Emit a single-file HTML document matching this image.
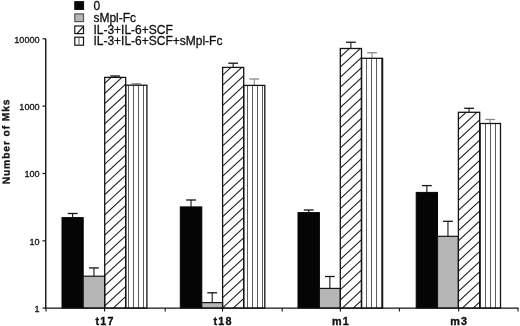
<!DOCTYPE html>
<html><head><meta charset="utf-8"><title>Number of Mks</title>
<style>html,body{margin:0;padding:0;background:#fff;}svg{display:block;}text{font-family:"Liberation Sans",Arial,Helvetica,sans-serif;fill:#111;}</style>
</head><body>
<svg width="520" height="326" viewBox="0 0 520 326">
<defs>
</defs>
<rect width="520" height="326" fill="#fff"/>
<rect x="74.8" y="1.7" width="8.70" height="7.70" fill="#050505" stroke="#141414" stroke-width="1.2"/>
<rect x="74.8" y="13.9" width="8.70" height="7.70" fill="#b6b6b6" stroke="#555" stroke-width="1.2"/>
<rect x="74.8" y="26.0" width="8.70" height="7.60" fill="#fff" stroke="#141414" stroke-width="1.2"/>
<rect x="74.8" y="37.2" width="8.70" height="8.00" fill="#fff" stroke="#141414" stroke-width="1.2"/>
<line x1="76.8" y1="33.8" x2="82.8" y2="27.2" stroke="#141414" stroke-width="1.2"/>
<line x1="79" y1="36.8" x2="79" y2="45.6" stroke="#555" stroke-width="1"/>
<text x="93.4" y="9.6" font-size="12" stroke="#111" stroke-width="0.3">0</text>
<text x="93.4" y="21.6" font-size="12" stroke="#111" stroke-width="0.3">sMpl-Fc</text>
<text x="93.4" y="33.7" font-size="12" stroke="#111" stroke-width="0.3">IL-3+IL-6+SCF</text>
<text x="93.4" y="45.4" font-size="12" stroke="#111" stroke-width="0.3">IL-3+IL-6+SCF+sMpl-Fc</text>
<line x1="72.60" y1="213.5" x2="72.60" y2="217.6" stroke="#141414" stroke-width="1.1"/>
<line x1="67.70" y1="213.5" x2="77.50" y2="213.5" stroke="#141414" stroke-width="1.3"/>
<rect x="62.00" y="217.6" width="21.20" height="90.50" fill="#050505" stroke="#050505" stroke-width="1"/>
<line x1="93.95" y1="267.9" x2="93.95" y2="276.2" stroke="#141414" stroke-width="1.1"/>
<line x1="89.05" y1="267.9" x2="98.85" y2="267.9" stroke="#141414" stroke-width="1.3"/>
<rect x="83.20" y="276.2" width="21.50" height="31.90" fill="#b6b6b6" stroke="#141414" stroke-width="1.2"/>
<line x1="115.20" y1="76.0" x2="115.20" y2="77.4" stroke="#141414" stroke-width="1.1"/>
<line x1="110.30" y1="76.0" x2="120.10" y2="76.0" stroke="#141414" stroke-width="1.3"/>
<clipPath id="c0"><rect x="104.70" y="77.4" width="21.00" height="230.70"/></clipPath>
<path d="M103.70,74.13 L126.70,52.79 M103.70,84.25 L126.70,62.91 M103.70,94.37 L126.70,73.03 M103.70,104.49 L126.70,83.15 M103.70,114.61 L126.70,93.27 M103.70,124.73 L126.70,103.39 M103.70,134.85 L126.70,113.51 M103.70,144.97 L126.70,123.63 M103.70,155.09 L126.70,133.75 M103.70,165.21 L126.70,143.87 M103.70,175.33 L126.70,153.99 M103.70,185.45 L126.70,164.11 M103.70,195.57 L126.70,174.23 M103.70,205.69 L126.70,184.35 M103.70,215.81 L126.70,194.47 M103.70,225.93 L126.70,204.59 M103.70,236.05 L126.70,214.71 M103.70,246.17 L126.70,224.83 M103.70,256.29 L126.70,234.95 M103.70,266.41 L126.70,245.07 M103.70,276.53 L126.70,255.19 M103.70,286.65 L126.70,265.31 M103.70,296.77 L126.70,275.43 M103.70,306.89 L126.70,285.55 M103.70,317.01 L126.70,295.67 M103.70,327.13 L126.70,305.79 " clip-path="url(#c0)" stroke="#222" stroke-width="1.1" fill="none"/>
<rect x="104.70" y="77.4" width="21.00" height="230.70" fill="none" stroke="#141414" stroke-width="1.3"/>
<line x1="136.30" y1="83.8" x2="136.30" y2="85.2" stroke="#8a8a8a" stroke-width="1.1"/>
<line x1="131.40" y1="83.8" x2="141.20" y2="83.8" stroke="#8a8a8a" stroke-width="1.3"/>
<path d="M128.5,85.2 V308.1 M133.5,85.2 V308.1 M138.5,85.2 V308.1 M143.5,85.2 V308.1 " stroke="#4a4a4a" stroke-width="0.9" fill="none"/>
<rect x="125.70" y="85.2" width="21.20" height="222.90" fill="none" stroke="#141414" stroke-width="1.3"/>
<line x1="191.05" y1="200.0" x2="191.05" y2="206.9" stroke="#141414" stroke-width="1.1"/>
<line x1="186.15" y1="200.0" x2="195.95" y2="200.0" stroke="#141414" stroke-width="1.3"/>
<rect x="180.30" y="206.9" width="21.50" height="101.20" fill="#050505" stroke="#050505" stroke-width="1"/>
<line x1="212.20" y1="292.8" x2="212.20" y2="302.6" stroke="#141414" stroke-width="1.1"/>
<line x1="207.30" y1="292.8" x2="217.10" y2="292.8" stroke="#141414" stroke-width="1.3"/>
<rect x="201.80" y="302.6" width="20.80" height="5.50" fill="#b6b6b6" stroke="#141414" stroke-width="1.2"/>
<line x1="233.15" y1="63.2" x2="233.15" y2="67.4" stroke="#141414" stroke-width="1.1"/>
<line x1="228.25" y1="63.2" x2="238.05" y2="63.2" stroke="#141414" stroke-width="1.3"/>
<clipPath id="c1"><rect x="222.60" y="67.4" width="21.10" height="240.70"/></clipPath>
<path d="M221.60,-4.92 L244.70,-26.36 M221.60,5.20 L244.70,-16.24 M221.60,15.32 L244.70,-6.12 M221.60,25.44 L244.70,4.00 M221.60,35.56 L244.70,14.12 M221.60,45.68 L244.70,24.24 M221.60,55.80 L244.70,34.36 M221.60,65.92 L244.70,44.48 M221.60,76.04 L244.70,54.60 M221.60,86.16 L244.70,64.72 M221.60,96.28 L244.70,74.84 M221.60,106.40 L244.70,84.96 M221.60,116.52 L244.70,95.08 M221.60,126.64 L244.70,105.20 M221.60,136.76 L244.70,115.32 M221.60,146.88 L244.70,125.44 M221.60,157.00 L244.70,135.56 M221.60,167.12 L244.70,145.68 M221.60,177.24 L244.70,155.80 M221.60,187.36 L244.70,165.92 M221.60,197.48 L244.70,176.04 M221.60,207.60 L244.70,186.16 M221.60,217.72 L244.70,196.28 M221.60,227.84 L244.70,206.40 M221.60,237.96 L244.70,216.52 M221.60,248.08 L244.70,226.64 M221.60,258.20 L244.70,236.76 M221.60,268.32 L244.70,246.88 M221.60,278.44 L244.70,257.00 M221.60,288.56 L244.70,267.12 M221.60,298.68 L244.70,277.24 M221.60,308.80 L244.70,287.36 M221.60,318.92 L244.70,297.48 M221.60,329.04 L244.70,307.60 " clip-path="url(#c1)" stroke="#222" stroke-width="1.1" fill="none"/>
<rect x="222.60" y="67.4" width="21.10" height="240.70" fill="none" stroke="#141414" stroke-width="1.3"/>
<line x1="254.25" y1="79.0" x2="254.25" y2="85.4" stroke="#8a8a8a" stroke-width="1.1"/>
<line x1="249.35" y1="79.0" x2="259.15" y2="79.0" stroke="#8a8a8a" stroke-width="1.3"/>
<path d="M247.5,85.4 V308.1 M252.5,85.4 V308.1 M257.5,85.4 V308.1 M262.5,85.4 V308.1 " stroke="#4a4a4a" stroke-width="0.9" fill="none"/>
<rect x="243.70" y="85.4" width="21.10" height="222.70" fill="none" stroke="#141414" stroke-width="1.3"/>
<line x1="308.70" y1="210.0" x2="308.70" y2="212.6" stroke="#141414" stroke-width="1.1"/>
<line x1="303.80" y1="210.0" x2="313.60" y2="210.0" stroke="#141414" stroke-width="1.3"/>
<rect x="298.00" y="212.6" width="21.40" height="95.50" fill="#050505" stroke="#050505" stroke-width="1"/>
<line x1="329.85" y1="276.5" x2="329.85" y2="288.4" stroke="#141414" stroke-width="1.1"/>
<line x1="324.95" y1="276.5" x2="334.75" y2="276.5" stroke="#141414" stroke-width="1.3"/>
<rect x="319.40" y="288.4" width="20.90" height="19.70" fill="#b6b6b6" stroke="#141414" stroke-width="1.2"/>
<line x1="350.90" y1="42.25" x2="350.90" y2="48.5" stroke="#141414" stroke-width="1.1"/>
<line x1="346.00" y1="42.25" x2="355.80" y2="42.25" stroke="#141414" stroke-width="1.3"/>
<clipPath id="c2"><rect x="340.30" y="48.5" width="21.20" height="259.60"/></clipPath>
<path d="M339.30,-114.14 L362.50,-135.67 M339.30,-104.02 L362.50,-125.55 M339.30,-93.90 L362.50,-115.43 M339.30,-83.78 L362.50,-105.31 M339.30,-73.66 L362.50,-95.19 M339.30,-63.54 L362.50,-85.07 M339.30,-53.42 L362.50,-74.95 M339.30,-43.30 L362.50,-64.83 M339.30,-33.18 L362.50,-54.71 M339.30,-23.06 L362.50,-44.59 M339.30,-12.94 L362.50,-34.47 M339.30,-2.82 L362.50,-24.35 M339.30,7.30 L362.50,-14.23 M339.30,17.42 L362.50,-4.11 M339.30,27.54 L362.50,6.01 M339.30,37.66 L362.50,16.13 M339.30,47.78 L362.50,26.25 M339.30,57.90 L362.50,36.37 M339.30,68.02 L362.50,46.49 M339.30,78.14 L362.50,56.61 M339.30,88.26 L362.50,66.73 M339.30,98.38 L362.50,76.85 M339.30,108.50 L362.50,86.97 M339.30,118.62 L362.50,97.09 M339.30,128.74 L362.50,107.21 M339.30,138.86 L362.50,117.33 M339.30,148.98 L362.50,127.45 M339.30,159.10 L362.50,137.57 M339.30,169.22 L362.50,147.69 M339.30,179.34 L362.50,157.81 M339.30,189.46 L362.50,167.93 M339.30,199.58 L362.50,178.05 M339.30,209.70 L362.50,188.17 M339.30,219.82 L362.50,198.29 M339.30,229.94 L362.50,208.41 M339.30,240.06 L362.50,218.53 M339.30,250.18 L362.50,228.65 M339.30,260.30 L362.50,238.77 M339.30,270.42 L362.50,248.89 M339.30,280.54 L362.50,259.01 M339.30,290.66 L362.50,269.13 M339.30,300.78 L362.50,279.25 M339.30,310.90 L362.50,289.37 M339.30,321.02 L362.50,299.49 " clip-path="url(#c2)" stroke="#222" stroke-width="1.1" fill="none"/>
<rect x="340.30" y="48.5" width="21.20" height="259.60" fill="none" stroke="#141414" stroke-width="1.3"/>
<line x1="372.05" y1="52.75" x2="372.05" y2="58.3" stroke="#8a8a8a" stroke-width="1.1"/>
<line x1="367.15" y1="52.75" x2="376.95" y2="52.75" stroke="#8a8a8a" stroke-width="1.3"/>
<path d="M366.5,58.3 V308.1 M371.5,58.3 V308.1 M376.5,58.3 V308.1 M381.5,58.3 V308.1 " stroke="#4a4a4a" stroke-width="0.9" fill="none"/>
<rect x="361.50" y="58.3" width="21.10" height="249.80" fill="none" stroke="#141414" stroke-width="1.3"/>
<line x1="426.85" y1="185.6" x2="426.85" y2="192.4" stroke="#141414" stroke-width="1.1"/>
<line x1="421.95" y1="185.6" x2="431.75" y2="185.6" stroke="#141414" stroke-width="1.3"/>
<rect x="416.20" y="192.4" width="21.30" height="115.70" fill="#050505" stroke="#050505" stroke-width="1"/>
<line x1="447.95" y1="221.3" x2="447.95" y2="236.3" stroke="#141414" stroke-width="1.1"/>
<line x1="443.05" y1="221.3" x2="452.85" y2="221.3" stroke="#141414" stroke-width="1.3"/>
<rect x="437.50" y="236.3" width="20.90" height="71.80" fill="#b6b6b6" stroke="#141414" stroke-width="1.2"/>
<line x1="469.05" y1="108.3" x2="469.05" y2="112.3" stroke="#141414" stroke-width="1.1"/>
<line x1="464.15" y1="108.3" x2="473.95" y2="108.3" stroke="#141414" stroke-width="1.3"/>
<clipPath id="c3"><rect x="458.40" y="112.3" width="21.30" height="195.80"/></clipPath>
<path d="M457.40,-223.74 L480.70,-245.36 M457.40,-213.62 L480.70,-235.24 M457.40,-203.50 L480.70,-225.12 M457.40,-193.38 L480.70,-215.00 M457.40,-183.26 L480.70,-204.88 M457.40,-173.14 L480.70,-194.76 M457.40,-163.02 L480.70,-184.64 M457.40,-152.90 L480.70,-174.52 M457.40,-142.78 L480.70,-164.40 M457.40,-132.66 L480.70,-154.28 M457.40,-122.54 L480.70,-144.16 M457.40,-112.42 L480.70,-134.04 M457.40,-102.30 L480.70,-123.92 M457.40,-92.18 L480.70,-113.80 M457.40,-82.06 L480.70,-103.68 M457.40,-71.94 L480.70,-93.56 M457.40,-61.82 L480.70,-83.44 M457.40,-51.70 L480.70,-73.32 M457.40,-41.58 L480.70,-63.20 M457.40,-31.46 L480.70,-53.08 M457.40,-21.34 L480.70,-42.96 M457.40,-11.22 L480.70,-32.84 M457.40,-1.10 L480.70,-22.72 M457.40,9.02 L480.70,-12.60 M457.40,19.14 L480.70,-2.48 M457.40,29.26 L480.70,7.64 M457.40,39.38 L480.70,17.76 M457.40,49.50 L480.70,27.88 M457.40,59.62 L480.70,38.00 M457.40,69.74 L480.70,48.12 M457.40,79.86 L480.70,58.24 M457.40,89.98 L480.70,68.36 M457.40,100.10 L480.70,78.48 M457.40,110.22 L480.70,88.60 M457.40,120.34 L480.70,98.72 M457.40,130.46 L480.70,108.84 M457.40,140.58 L480.70,118.96 M457.40,150.70 L480.70,129.08 M457.40,160.82 L480.70,139.20 M457.40,170.94 L480.70,149.32 M457.40,181.06 L480.70,159.44 M457.40,191.18 L480.70,169.56 M457.40,201.30 L480.70,179.68 M457.40,211.42 L480.70,189.80 M457.40,221.54 L480.70,199.92 M457.40,231.66 L480.70,210.04 M457.40,241.78 L480.70,220.16 M457.40,251.90 L480.70,230.28 M457.40,262.02 L480.70,240.40 M457.40,272.14 L480.70,250.52 M457.40,282.26 L480.70,260.64 M457.40,292.38 L480.70,270.76 M457.40,302.50 L480.70,280.88 M457.40,312.62 L480.70,291.00 M457.40,322.74 L480.70,301.12 " clip-path="url(#c3)" stroke="#222" stroke-width="1.1" fill="none"/>
<rect x="458.40" y="112.3" width="21.30" height="195.80" fill="none" stroke="#141414" stroke-width="1.3"/>
<line x1="490.10" y1="119.5" x2="490.10" y2="123.5" stroke="#8a8a8a" stroke-width="1.1"/>
<line x1="485.20" y1="119.5" x2="495.00" y2="119.5" stroke="#8a8a8a" stroke-width="1.3"/>
<path d="M480.5,123.5 V308.1 M485.5,123.5 V308.1 M490.5,123.5 V308.1 M495.5,123.5 V308.1 " stroke="#4a4a4a" stroke-width="0.9" fill="none"/>
<rect x="479.70" y="123.5" width="20.80" height="184.60" fill="none" stroke="#141414" stroke-width="1.3"/>
<path d="M45.75,38.8 V308.1 H518.5" stroke="#141414" stroke-width="1.4" fill="none"/>
<line x1="42.5" y1="38.8" x2="45.75" y2="38.8" stroke="#141414" stroke-width="1.2"/>
<line x1="42.5" y1="106.1" x2="45.75" y2="106.1" stroke="#141414" stroke-width="1.2"/>
<line x1="42.5" y1="173.5" x2="45.75" y2="173.5" stroke="#141414" stroke-width="1.2"/>
<line x1="42.5" y1="240.8" x2="45.75" y2="240.8" stroke="#141414" stroke-width="1.2"/>
<line x1="42.5" y1="308.1" x2="45.75" y2="308.1" stroke="#141414" stroke-width="1.2"/>
<line x1="46" y1="308.1" x2="46" y2="311.6" stroke="#141414" stroke-width="1.1"/>
<line x1="104.6" y1="308.1" x2="104.6" y2="311.6" stroke="#141414" stroke-width="1.1"/>
<line x1="165.2" y1="308.1" x2="165.2" y2="311.6" stroke="#141414" stroke-width="1.1"/>
<line x1="222.5" y1="308.1" x2="222.5" y2="311.6" stroke="#141414" stroke-width="1.1"/>
<line x1="282.2" y1="308.1" x2="282.2" y2="311.6" stroke="#141414" stroke-width="1.1"/>
<line x1="340.4" y1="308.1" x2="340.4" y2="311.6" stroke="#141414" stroke-width="1.1"/>
<line x1="399.4" y1="308.1" x2="399.4" y2="311.6" stroke="#141414" stroke-width="1.1"/>
<line x1="458.7" y1="308.1" x2="458.7" y2="311.6" stroke="#141414" stroke-width="1.1"/>
<line x1="518" y1="308.1" x2="518" y2="311.6" stroke="#141414" stroke-width="1.1"/>
<text x="39.6" y="42.6" font-size="9.1" text-anchor="end" stroke="#111" stroke-width="0.3">10000</text>
<text x="39.6" y="109.9" font-size="9.1" text-anchor="end" stroke="#111" stroke-width="0.3">1000</text>
<text x="39.6" y="177.3" font-size="9.1" text-anchor="end" stroke="#111" stroke-width="0.3">100</text>
<text x="39.6" y="244.6" font-size="9.1" text-anchor="end" stroke="#111" stroke-width="0.3">10</text>
<text x="39.6" y="311.9" font-size="9.1" text-anchor="end" stroke="#111" stroke-width="0.3">1</text>
<text x="105.19999999999999" y="324.8" font-size="10.8" font-weight="bold" letter-spacing="1.2" text-anchor="middle" stroke="#111" stroke-width="0.35">t17</text>
<text x="223.1" y="324.8" font-size="10.8" font-weight="bold" letter-spacing="1.2" text-anchor="middle" stroke="#111" stroke-width="0.35">t18</text>
<text x="341.0" y="324.8" font-size="10.8" font-weight="bold" letter-spacing="1.2" text-anchor="middle" stroke="#111" stroke-width="0.35">m1</text>
<text x="459.3" y="324.8" font-size="10.8" font-weight="bold" letter-spacing="1.2" text-anchor="middle" stroke="#111" stroke-width="0.35">m3</text>
<text transform="translate(9.5,141.5) rotate(-90.4)" font-size="10.3" font-weight="bold" letter-spacing="0.87" text-anchor="middle" stroke="#111" stroke-width="0.3">Number of Mks</text>
</svg></body></html>
